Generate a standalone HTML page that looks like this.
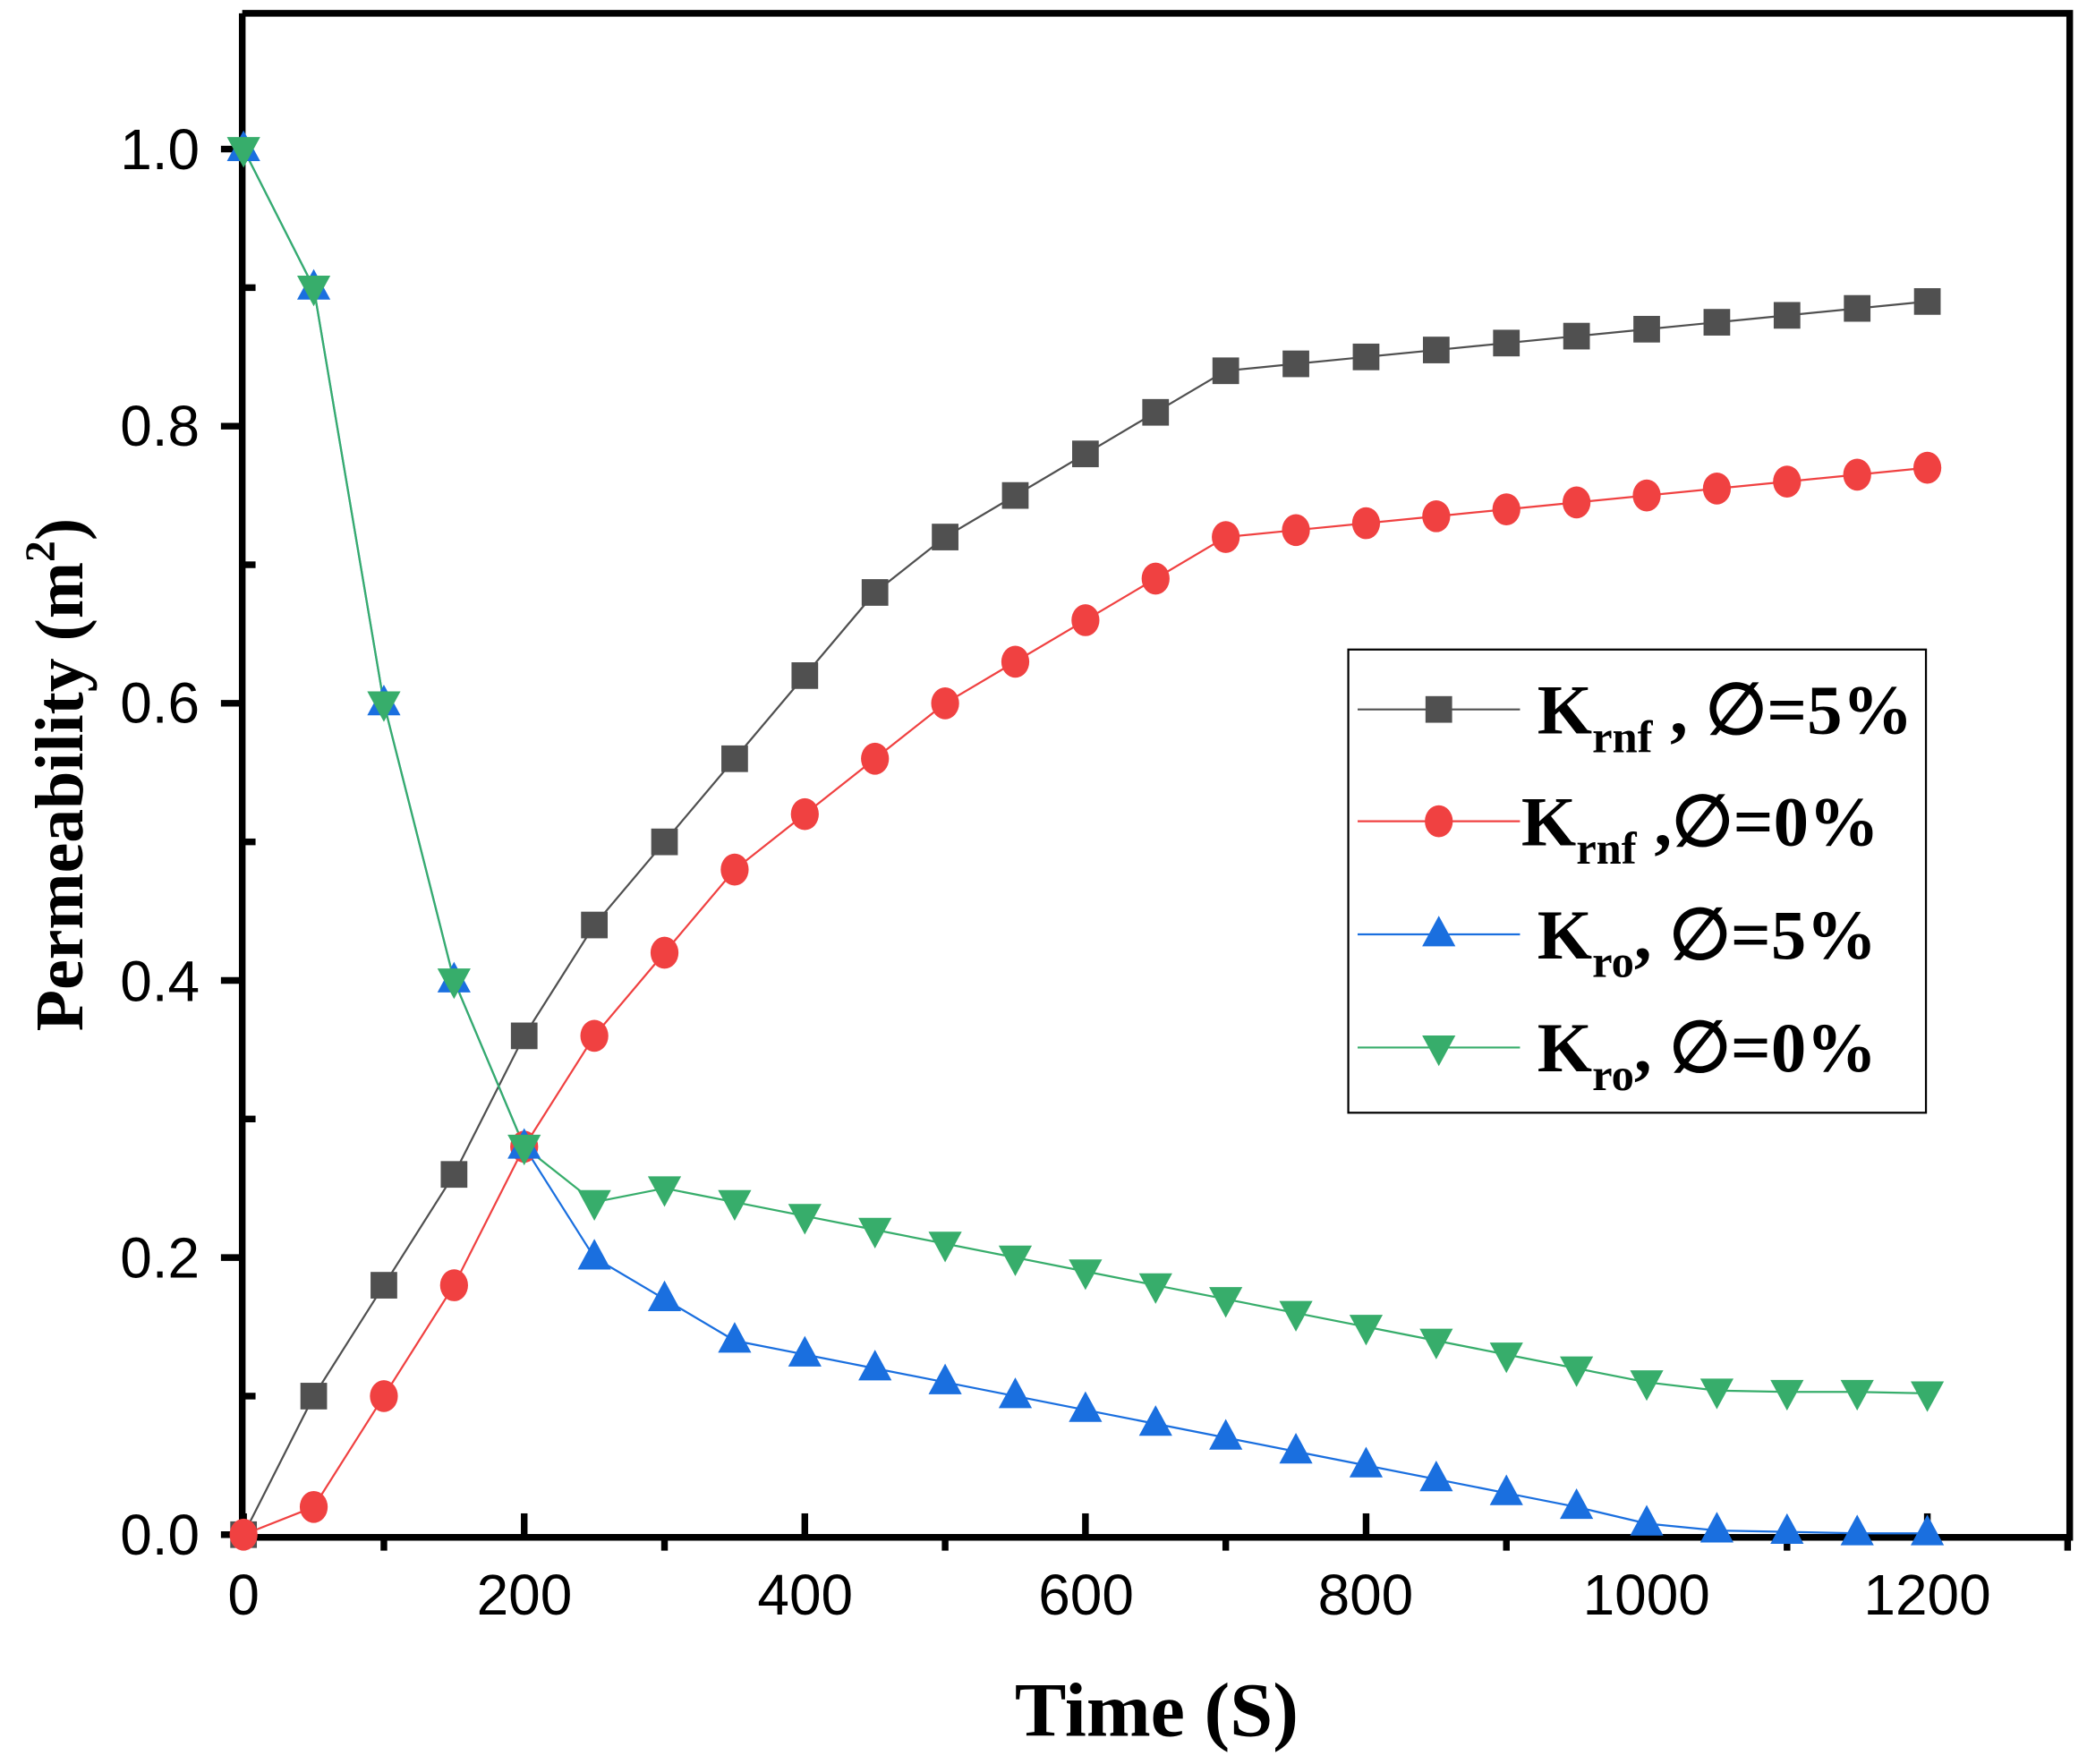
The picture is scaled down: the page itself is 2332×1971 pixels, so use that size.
<!DOCTYPE html>
<html><head><meta charset="utf-8"><style>
html,body{margin:0;padding:0;background:#fff;}
svg{display:block;}
</style></head><body>
<svg id="s" width="2332" height="1971" viewBox="0 0 1568 1325.3" preserveAspectRatio="none" xmlns="http://www.w3.org/2000/svg">
<g id="plot"></g>
<g font-family="Liberation Sans, Arial, sans-serif" font-size="43" fill="#000">
<text x="150" y="127" text-anchor="end">1.0</text>
<text x="150" y="335" text-anchor="end">0.8</text>
<text x="150" y="543" text-anchor="end">0.6</text>
<text x="150" y="752" text-anchor="end">0.4</text>
<text x="150" y="960" text-anchor="end">0.2</text>
<text x="150" y="1168" text-anchor="end">0.0</text>
<text x="183" y="1213" text-anchor="middle">0</text>
<text x="394" y="1213" text-anchor="middle">200</text>
<text x="605" y="1213" text-anchor="middle">400</text>
<text x="816" y="1213" text-anchor="middle">600</text>
<text x="1026" y="1213" text-anchor="middle">800</text>
<text x="1237" y="1213" text-anchor="middle">1000</text>
<text x="1448" y="1213" text-anchor="middle">1200</text>
</g>
<g font-family="Liberation Serif, Times New Roman, serif" font-weight="bold" fill="#000">
<text x="869" y="1304" text-anchor="middle" font-size="58">Time (S)</text>
<text transform="translate(62,582) rotate(-90)" text-anchor="middle" font-size="51">Permeability (m<tspan font-size="32" dy="-21">2</tspan><tspan dy="21">)</tspan></text>
</g>
<rect x="1013" y="488" width="434" height="348" fill="none" stroke="#000" stroke-width="1.5"/>
<g id="leg"></g>
<g font-family="Liberation Serif, Times New Roman, serif" font-weight="bold" font-size="53" fill="#000">
<text x="1155" y="551">K<tspan font-size="34" dy="14">rnf</tspan><tspan dy="-14"> , ∅=5%</tspan></text>
<text x="1143" y="635">K<tspan font-size="34" dy="14">rnf</tspan><tspan dy="-14"> ,∅=0%</tspan></text>
<text x="1155" y="720">K<tspan font-size="34" dy="14">ro</tspan><tspan dy="-14">, ∅=5%</tspan></text>
<text x="1155" y="805">K<tspan font-size="34" dy="14">ro</tspan><tspan dy="-14">, ∅=0%</tspan></text>
</g>
</svg>
<script>
var NS="http://www.w3.org/2000/svg";
function X(t){return 183+t*1.0542;}
function Y(v){return 1153-v*1041;}
function el(p,n,a){var e=document.createElementNS(NS,n);for(var k in a)e.setAttribute(k,a[k]);p.appendChild(e);return e;}
var g=document.getElementById("plot"),L=document.getElementById("leg");
el(g,"path",{d:"M182,10 V1155 H1555 V10 H182",fill:"none",stroke:"#000","stroke-width":5});
for(var i=0;i<=10;i++){var y=Y(i/10);
 if(i%2==0) el(g,"line",{x1:166,x2:182,y1:y,y2:y,stroke:"#000","stroke-width":5});
 else el(g,"line",{x1:182,x2:192,y1:y,y2:y,stroke:"#000","stroke-width":5});}
for(var t=0;t<=1300;t+=100){var x=X(t);
 if(t%200==0) el(g,"line",{x1:x,x2:x,y1:1137,y2:1155,stroke:"#000","stroke-width":5});
 else el(g,"line",{x1:x,x2:x,y1:1155,y2:1165,stroke:"#000","stroke-width":5});}
var S=[
["#505050","sq",[0,.1,.18,.26,.36,.44,.5,.56,.62,.68,.72,.75,.78,.81,.84,.845,.85,.855,.86,.865,.87,.875,.88,.885,.89]],
["#f04141","ci",[0,.02,.1,.18,.28,.36,.42,.48,.52,.56,.6,.63,.66,.69,.72,.725,.73,.735,.74,.745,.75,.755,.76,.765,.77]],
["#1a6fdf","up",[1,.9,.6,.4,.28,.2,.17,.14,.13,.12,.11,.1,.09,.08,.07,.06,.05,.04,.03,.02,.008,.003,.002,.001,.001]],
["#37ad6b","dn",[1,.9,.6,.4,.28,.24,.25,.24,.23,.22,.21,.2,.19,.18,.17,.16,.15,.14,.13,.12,.11,.104,.103,.103,.102]]];
function mk(p,type,x,y,c){
 if(type=="sq")el(p,"rect",{x:x-10,y:y-10,width:20,height:20,fill:c});
 else if(type=="ci")el(p,"ellipse",{cx:x,cy:y,rx:10.5,ry:12,fill:c});
 else if(type=="up")el(p,"polygon",{points:(x)+","+(y-14)+" "+(x-12.5)+","+(y+9)+" "+(x+12.5)+","+(y+9),fill:c});
 else el(p,"polygon",{points:(x)+","+(y+14)+" "+(x-12.5)+","+(y-9)+" "+(x+12.5)+","+(y-9),fill:c});}
S.forEach(function(s){var pts=s[2].map(function(v,i){return X(i*50)+","+Y(v);}).join(" ");
 el(g,"polyline",{points:pts,fill:"none",stroke:s[0],"stroke-width":1.5});});
S.forEach(function(s){s[2].forEach(function(v,i){mk(g,s[1],X(i*50),Y(v),s[0]);});});
var ly=[533,617,702,787];
S.forEach(function(s,i){el(L,"line",{x1:1020,x2:1142,y1:ly[i],y2:ly[i],stroke:s[0],"stroke-width":1.5});mk(L,s[1],1081,ly[i],s[0]);});
</script>
</body></html>
